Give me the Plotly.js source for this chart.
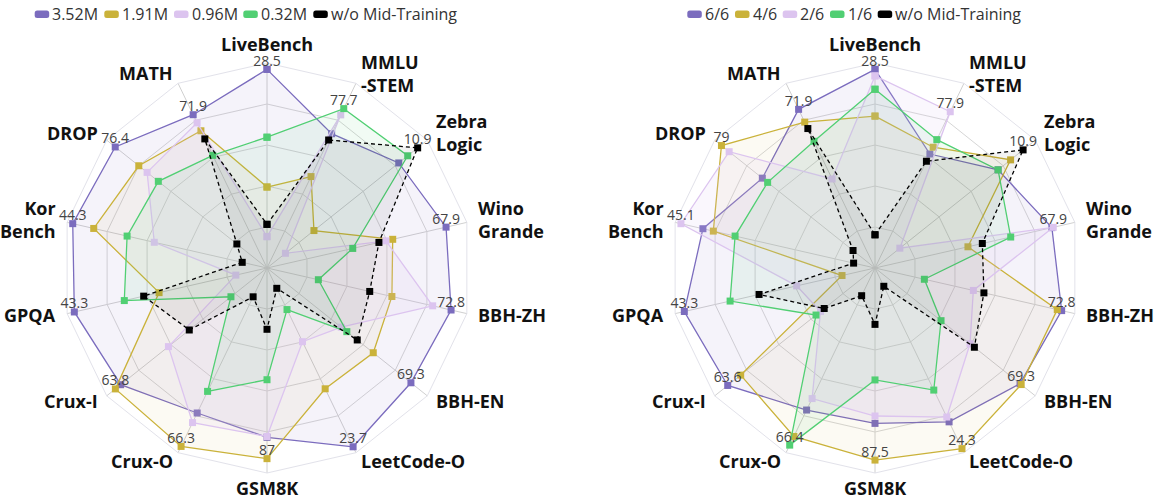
<!DOCTYPE html>
<html><head><meta charset="utf-8">
<script src="https://cdn.plot.ly/plotly-3.0.1.min.js"></script>
<style>html,body{margin:0;padding:0;background:#fff;}#chart{width:1159px;height:501px;}</style>
</head><body><div id="chart"></div>
<script>
// ---- categories (clockwise from top) ----
const categories = ['LiveBench','MMLU<br>-STEM','Zebra<br>Logic','Wino<br>Grande','BBH-ZH','BBH-EN','LeetCode-O','GSM8K','Crux-O','Crux-I','GPQA','Kor<br>Bench','DROP','MATH'];

// ---- left chart: per-axis normalised scores (fraction of outer ring) ----
const leftNames = ['3.52M','1.91M','0.96M','0.32M','w/o Mid-Training'];
const left_3_52M = [0.969,0.727,0.822,0.896,0.921,0.898,0.968,0.826,0.785,0.913,0.964,0.972,0.947,0.830];
const left_1_91M = [0.395,0.495,0.293,0.629,0.625,0.663,0.654,0.930,0.966,0.946,0.540,0.867,0.800,0.743];
const left_0_96M = [0.153,0.829,0.115,0.595,0.829,0.463,0.399,0.822,0.837,0.615,0.156,0.564,0.748,0.786];
const left_0_32M = [0.638,0.863,0.878,0.429,0.257,0.498,0.225,0.545,0.668,0.225,0.714,0.700,0.678,0.610];
const left_noMid = [0.213,0.693,0.940,0.560,0.514,0.563,0.110,0.299,0.156,0.485,0.617,0.124,0.188,0.699];
const leftMaxLabels = ['28.5','77.7','10.9','67.9','72.8','69.3','23.7','87','66.3','63.8','43.3','44.3','76.4','71.9'];

// ---- right chart ----
const rightNames = ['6/6','4/6','2/6','1/6','w/o Mid-Training'];
const right_6_6 = [0.969,0.617,0.768,0.885,0.934,0.905,0.833,0.758,0.769,0.919,0.954,0.861,0.703,0.859];
const right_4_6 = [0.741,0.654,0.846,0.465,0.912,0.912,0.978,0.937,0.912,0.838,0.165,0.809,0.958,0.790];
const right_2_6 = [0.937,0.846,0.155,0.892,0.492,0.593,0.807,0.722,0.707,0.340,0.392,0.971,0.910,0.482];
const right_1_6 = [0.872,0.695,0.768,0.679,0.247,0.412,0.661,0.546,0.959,0.368,0.725,0.700,0.670,0.686];
const right_noMid = [0.162,0.578,0.924,0.537,0.545,0.620,0.099,0.275,0.150,0.317,0.580,0.107,0.137,0.755];
const rightMaxLabels = ['28.5','77.9','10.9','67.9','72.8','69.3','24.3','87.5','66.4','63.6','43.3','45.1','79','71.9'];

// ---- styles ----
const colors = ['#7B6CBE','#CAB23A','#DCC4EF','#51CF73','#000000'];
const fills  = ['rgba(123,108,190,0.08)','rgba(202,178,58,0.06)','rgba(220,196,239,0.14)','rgba(81,207,115,0.08)','rgba(0,0,0,0.05)'];
const W = 1159, H = 501, R = 205, CY = 268;
const FONT = 'Open Sans, Noto Sans, sans-serif';

function seriesTraces(seriesList, names, labels, subplot) {
  const traces = [];
  seriesList.forEach((arr, i) => {
    traces.push({
      type: 'scatterpolar', subplot: subplot, name: names[i],
      r: arr.concat([arr[0]]), theta: categories.concat([categories[0]]),
      mode: 'lines+markers', fill: 'toself', fillcolor: fills[i],
      line: {color: colors[i], width: 1.3, dash: i === 4 ? '4px,3px' : 'solid'},
      marker: {color: colors[i], size: 7, symbol: 'square', line: {width: 0}},
      showlegend: false, hoverinfo: 'skip'
    });
  });
  const maxR = categories.map((c, k) => Math.max(...seriesList.map(s => s[k])));
  traces.push({
    type: 'scatterpolar', subplot: subplot, mode: 'text',
    r: maxR, theta: categories, text: labels, textposition: 'top center',
    textfont: {family: FONT, size: 14, color: '#444'},
    cliponaxis: false, showlegend: false, hoverinfo: 'skip'
  });
  return traces;
}

const data = seriesTraces([left_3_52M,left_1_91M,left_0_96M,left_0_32M,left_noMid], leftNames, leftMaxLabels, 'polar')
  .concat(seriesTraces([right_6_6,right_4_6,right_2_6,right_1_6,right_noMid], rightNames, rightMaxLabels, 'polar2'));

function polarLayout(cx) {
  return {
    domain: {x: [(cx - R) / W, (cx + R) / W], y: [(H - CY - R) / H, (H - CY + R) / H]},
    gridshape: 'linear', bgcolor: 'rgba(0,0,0,0)',
    radialaxis: {range: [0, 1], tickvals: [0.2, 0.4, 0.6, 0.8, 1.0], showticklabels: false, ticks: '',
                 showline: false, gridcolor: '#d6d6d6', gridwidth: 1, layer: 'below traces'},
    angularaxis: {type: 'category', categoryarray: categories, rotation: 90, direction: 'clockwise',
                  gridcolor: '#d0d0d0', linecolor: '#e2e2ea', showline: true, ticks: '', layer: 'below traces',
                  showticklabels: false}
  };
}

function px(x) { return x / W; }
function py(y) { return 1 - y / H; }

const shapes = [], annotations = [];

// ---- category labels placed just outside each polygon vertex ----
function categoryLabels(cx) {
  const n = categories.length;
  categories.forEach((cat, k) => {
    const a = 2 * Math.PI * k / n;
    const s = Math.sin(a), c = Math.cos(a);
    let xa, d = 10, yShift = -1;
    if (Math.abs(s) < 0.1) { xa = 'center'; d = c > 0 ? 19 : 15; yShift = 0; }
    else xa = s > 0 ? 'left' : 'right';
    const ax = cx + (R + d) * s, ay = CY - (R + d) * c + yShift;
    annotations.push({xref: 'paper', yref: 'paper', x: px(ax), y: py(ay),
      xanchor: xa, yanchor: 'middle', align: xa, text: cat, showarrow: false, borderpad: 0,
      font: {family: FONT, size: 18, weight: 700, color: '#111'}});
  });
}
categoryLabels(267);
categoryLabels(875);

// ---- hand-drawn legend chips (rounded rects) + text ----
function roundRect(x, y, w, h, r) {
  return 'M' + px(x + r) + ',' + py(y) + ' L' + px(x + w - r) + ',' + py(y) +
    ' Q' + px(x + w) + ',' + py(y) + ' ' + px(x + w) + ',' + py(y + r) +
    ' L' + px(x + w) + ',' + py(y + h - r) +
    ' Q' + px(x + w) + ',' + py(y + h) + ' ' + px(x + w - r) + ',' + py(y + h) +
    ' L' + px(x + r) + ',' + py(y + h) +
    ' Q' + px(x) + ',' + py(y + h) + ' ' + px(x) + ',' + py(y + h - r) +
    ' L' + px(x) + ',' + py(y + r) +
    ' Q' + px(x) + ',' + py(y) + ' ' + px(x + r) + ',' + py(y) + ' Z';
}
function legend(names, chipXs) {
  names.forEach((nm, i) => {
    shapes.push({type: 'path', xref: 'paper', yref: 'paper', path: roundRect(chipXs[i], 10.5, 14.5, 7.5, 2.5),
                 fillcolor: colors[i], line: {width: 0}});
    annotations.push({xref: 'paper', yref: 'paper', x: px(chipXs[i] + 15.5), y: py(14), xanchor: 'left', yanchor: 'middle',
                      text: nm, showarrow: false, font: {family: FONT, size: 16, color: '#333'}});
  });
}
legend(leftNames, [34.7, 104.3, 174, 243.3, 313.3]);
legend(rightNames, [687.3, 735, 782.7, 830, 877.7]);

const layout = {
  width: W, height: H, margin: {l: 0, r: 0, t: 0, b: 0},
  paper_bgcolor: '#fff', showlegend: false,
  polar: polarLayout(267), polar2: polarLayout(875),
  shapes: shapes, annotations: annotations
};
Plotly.newPlot('chart', data, layout, {displayModeBar: false, staticPlot: true});
</script></body></html>
